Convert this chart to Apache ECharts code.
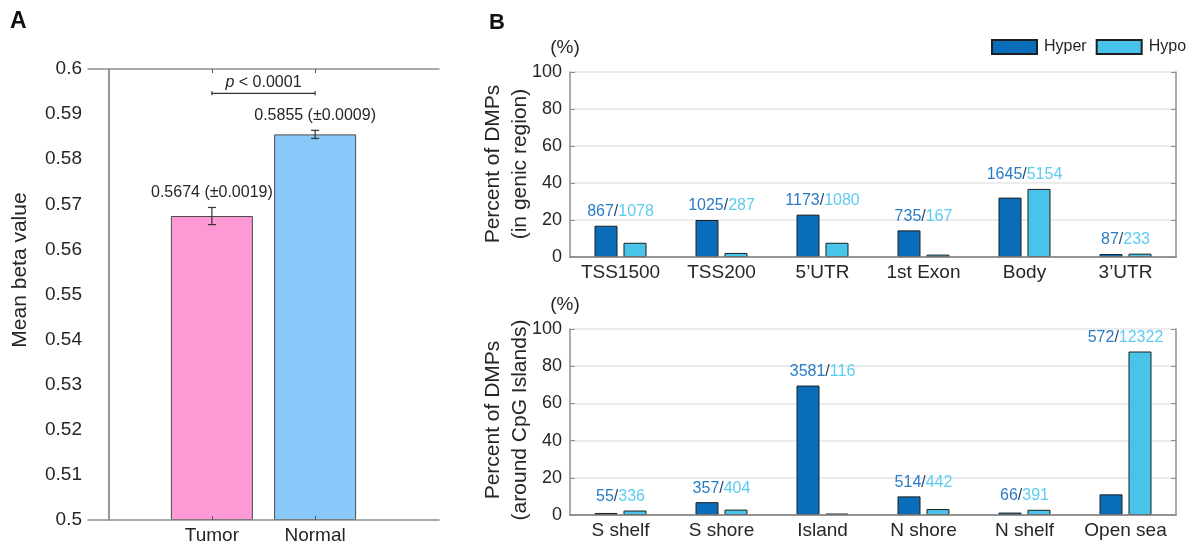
<!DOCTYPE html>
<html>
<head>
<meta charset="utf-8">
<script src="https://cdn.jsdelivr.net/npm/echarts@6/dist/echarts.min.js"></script>
<style>
  html, body { margin: 0; padding: 0; background: #fff; }
  #chart { width: 1188px; height: 547px; }
</style>
</head>
<body>
<div id="chart"></div>
<script>
// ---- 数据 ----
var groupNames = ['Tumor', 'Normal'];
var betaMean = [0.5674, 0.5855];
var betaErr = [0.0019, 0.0009];
var groupColors = ['#fd9ad5', '#88c9fa'];
var pText = 'p < 0.0001';

var genicCats = ['TSS1500', 'TSS200', '5\u2019UTR', '1st Exon', 'Body', '3\u2019UTR'];
var genicHyperPct = [16.9, 20.0, 22.9, 14.4, 32.1, 1.6];
var genicHypoPct = [7.7, 2.2, 7.7, 1.3, 36.8, 1.8];
var genicHyperN = [867, 1025, 1173, 735, 1645, 87];
var genicHypoN = [1078, 287, 1080, 167, 5154, 233];

var cpgCats = ['S shelf', 'S shore', 'Island', 'N shore', 'N shelf', 'Open sea'];
var cpgHyperPct = [1.1, 6.9, 69.6, 10.0, 1.3, 11.1];
var cpgHypoPct = [2.4, 2.9, 0.8, 3.2, 2.8, 87.9];
var cpgHyperN = [55, 357, 3581, 514, 66, 572];
var cpgHypoN = [336, 404, 116, 442, 391, 12322];

var HYPER = '#0a6dba', HYPO = '#48c4ea';
var HYPER_TXT = '#2a7bc6', HYPO_TXT = '#5ccbf0';
var FONT = '"Liberation Sans", Arial, Helvetica, sans-serif';
var AX = '#8f8f8f', TXT = '#262626';

var chart = echarts.init(document.getElementById('chart'));

// 计数标签:画在两根柱子中较高者上方
function countLabel(nHyper, nHypo) {
  return function (params, api) {
    var i = api.value(0);
    var p = api.coord([i, api.value(1)]);
    return {
      type: 'text', x: p[0], y: p[1] - 6,
      style: {
        text: '{a|' + nHyper[i] + '}{s|/}{b|' + nHypo[i] + '}',
        align: 'center', verticalAlign: 'bottom', fontFamily: FONT, fontSize: 16,
        rich: {
          a: { fill: HYPER_TXT, fontSize: 16, fontFamily: FONT },
          s: { fill: '#24496e', fontSize: 16, fontFamily: FONT },
          b: { fill: HYPO_TXT, fontSize: 16, fontFamily: FONT }
        }
      }
    };
  };
}
function maxPairs(a, b) {
  return a.map(function (v, i) { return [i, Math.max(v, b[i])]; });
}

function catAxes(cats, gi) {
  return [
    { type: 'category', gridIndex: gi, data: cats, position: 'bottom', z: 5,
      axisLine: { lineStyle: { color: AX, width: 1.5 } },
      axisTick: { inside: true, alignWithLabel: true, length: 5, lineStyle: { color: AX } },
      axisLabel: { interval: 0, color: TXT, fontSize: 19, fontFamily: FONT, margin: 6 } },
    { type: 'category', gridIndex: gi, data: cats, position: 'top',
      axisLine: { lineStyle: { color: AX, width: 1.5 } },
      axisTick: { inside: true, alignWithLabel: true, interval: 0, length: 5, lineStyle: { color: AX } },
      axisLabel: { show: false } }
  ];
}
function pctAxes(gi) {
  return [
    { type: 'value', gridIndex: gi, min: 0, max: 100, interval: 20, position: 'left',
      axisLine: { show: true, lineStyle: { color: AX, width: 1.5 } },
      axisTick: { show: true, inside: true, length: 5, lineStyle: { color: AX } },
      axisLabel: { color: TXT, fontSize: 18, fontFamily: FONT, margin: 8 },
      splitLine: { lineStyle: { color: '#e6e6e6', width: 1.5 } } },
    { type: 'value', gridIndex: gi, min: 0, max: 100, interval: 20, position: 'right',
      axisLine: { show: true, lineStyle: { color: AX, width: 1.5 } },
      axisTick: { show: true, inside: true, length: 5, lineStyle: { color: AX } },
      axisLabel: { show: false }, splitLine: { show: false } }
  ];
}

var xAxes = [
  { type: 'value', gridIndex: 0, min: -0.2, max: 3.2, position: 'bottom', z: 5,
    axisLine: { lineStyle: { color: AX, width: 1.5 } },
    axisTick: { inside: true, length: 4, customValues: [1, 2], lineStyle: { color: '#555' } },
    axisLabel: { customValues: [1, 2], color: TXT, fontSize: 19, fontFamily: FONT, margin: 6,
                 formatter: function (v) { return groupNames[Math.round(v) - 1] || ''; } },
    splitLine: { show: false } },
  { type: 'value', gridIndex: 0, min: -0.2, max: 3.2, position: 'top',
    axisLine: { lineStyle: { color: AX, width: 1.5 } },
    axisTick: { inside: true, length: 4, customValues: [1, 2], lineStyle: { color: '#555' } },
    axisLabel: { show: false }, splitLine: { show: false } }
].concat(catAxes(genicCats, 1), catAxes(cpgCats, 2));

var yAxes = [
  { type: 'value', gridIndex: 0, min: 0.5, max: 0.6, interval: 0.01, startValue: 0.5, position: 'left',
    axisLine: { show: true, lineStyle: { color: AX, width: 1.5 } },
    axisTick: { show: false },
    axisLabel: { color: TXT, fontSize: 19, fontFamily: FONT, margin: 6 },
    splitLine: { show: false } },
  { type: 'value', gridIndex: 0, min: 0.5, max: 0.6, position: 'right',
    axisLine: { show: true, lineStyle: { color: AX, width: 1.5 } },
    axisTick: { show: false }, axisLabel: { show: false }, splitLine: { show: false } }
].concat(pctAxes(1), pctAxes(2));

var barBorder = { borderColor: '#1e1e1e', borderWidth: 1 };

var option = {
  animation: false,
  textStyle: { fontFamily: FONT },
  grid: [
    { left: 88, top: 69, width: 351, height: 451 },
    { left: 570, top: 72, width: 606, height: 185 },
    { left: 570, top: 329, width: 606, height: 186 }
  ],
  xAxis: xAxes,
  yAxis: yAxes,
  legend: {
    data: ['Hyper', 'Hypo'], orient: 'horizontal', left: 991, top: 39, padding: 0,
    itemWidth: 45, itemHeight: 14, itemGap: 9,
    icon: 'rect', textStyle: { fontSize: 16, color: TXT, fontFamily: FONT, padding: [0, 0, 0, 2] }
  },
  graphic: [
    { type: 'text', left: 10, top: 10, style: { text: 'A', fontSize: 23, fontWeight: 'bold', fill: '#111', fontFamily: FONT } },
    { type: 'text', left: 489, top: 12, style: { text: 'B', fontSize: 22, fontWeight: 'bold', fill: '#111', fontFamily: FONT } },
    { type: 'text', x: 20, y: 270, rotation: Math.PI / 2,
      style: { text: 'Mean beta value', fontSize: 21, fill: TXT, fontFamily: FONT, align: 'center', verticalAlign: 'middle' } },
    { type: 'text', x: 507, y: 164, rotation: Math.PI / 2,
      style: { text: 'Percent of DMPs\n(in genic region)', fontSize: 21, lineHeight: 27, fill: TXT, fontFamily: FONT, align: 'center', verticalAlign: 'middle' } },
    { type: 'text', x: 507, y: 420, rotation: Math.PI / 2,
      style: { text: 'Percent of DMPs\n(around CpG Islands)', fontSize: 21, lineHeight: 27, fill: TXT, fontFamily: FONT, align: 'center', verticalAlign: 'middle' } },
    { type: 'text', x: 565, y: 48, style: { text: '(%)', fontSize: 19, fill: TXT, fontFamily: FONT, align: 'center', verticalAlign: 'middle' } },
    { type: 'text', x: 565, y: 305, style: { text: '(%)', fontSize: 19, fill: TXT, fontFamily: FONT, align: 'center', verticalAlign: 'middle' } }
  ],
  series: [
    // ---- A ----
    { type: 'bar', xAxisIndex: 0, yAxisIndex: 0, barWidth: 82, clip: true,
      data: betaMean.map(function (v, i) {
        return { value: [i + 1, v], itemStyle: { color: groupColors[i], borderColor: '#4a4a4a', borderWidth: 1 } };
      }) },
    { type: 'custom', xAxisIndex: 0, yAxisIndex: 0, z: 4,
      data: betaMean.map(function (v, i) { return [i + 1, v, betaErr[i]]; }),
      renderItem: function (params, api) {
        var x = api.value(0), m = api.value(1), e = api.value(2);
        var hi = api.coord([x, m + e]), lo = api.coord([x, m - e]);
        var st = { stroke: '#333', lineWidth: 1.2 };
        return { type: 'group', children: [
          { type: 'line', shape: { x1: hi[0], y1: hi[1], x2: lo[0], y2: lo[1] }, style: st },
          { type: 'line', shape: { x1: hi[0] - 4, y1: hi[1], x2: hi[0] + 4, y2: hi[1] }, style: st },
          { type: 'line', shape: { x1: lo[0] - 4, y1: lo[1], x2: lo[0] + 4, y2: lo[1] }, style: st },
          { type: 'text', x: hi[0], y: hi[1] - 7, style: {
              text: m.toFixed(4) + ' (\u00b1' + e.toFixed(4) + ')', fontSize: 16, fontFamily: FONT,
              fill: TXT, align: 'center', verticalAlign: 'bottom' } }
        ] };
      } },
    { type: 'custom', xAxisIndex: 0, yAxisIndex: 0, z: 4,
      data: [[1, 2, 0.5946]],
      renderItem: function (params, api) {
        var a = api.coord([api.value(0), api.value(2)]), b = api.coord([api.value(1), api.value(2)]);
        var st = { stroke: '#333', lineWidth: 1.2 };
        return { type: 'group', children: [
          { type: 'line', shape: { x1: a[0], y1: a[1], x2: b[0], y2: b[1] }, style: st },
          { type: 'line', shape: { x1: a[0], y1: a[1] - 2, x2: a[0], y2: a[1] + 2 }, style: st },
          { type: 'line', shape: { x1: b[0], y1: b[1] - 2, x2: b[0], y2: b[1] + 2 }, style: st },
          { type: 'text', x: (a[0] + b[0]) / 2, y: a[1] - 11, style: {
              text: '{i|p}{n| < 0.0001}', align: 'center', verticalAlign: 'middle',
              rich: { i: { fontStyle: 'italic', fontSize: 16, fontFamily: FONT, fill: TXT },
                      n: { fontSize: 16, fontFamily: FONT, fill: TXT } } } }
        ] };
      } },
    // ---- B 上 ----
    { name: 'Hyper', type: 'bar', xAxisIndex: 2, yAxisIndex: 2, barWidth: 23, barGap: '26%',
      itemStyle: Object.assign({ color: HYPER }, barBorder), data: genicHyperPct },
    { name: 'Hypo', type: 'bar', xAxisIndex: 2, yAxisIndex: 2, barWidth: 23, barGap: '26%',
      itemStyle: Object.assign({ color: HYPO }, barBorder), data: genicHypoPct },
    { type: 'custom', xAxisIndex: 2, yAxisIndex: 2, z: 4,
      data: maxPairs(genicHyperPct, genicHypoPct), renderItem: countLabel(genicHyperN, genicHypoN) },
    // ---- B 下 ----
    { name: 'Hyper', type: 'bar', xAxisIndex: 4, yAxisIndex: 4, barWidth: 23, barGap: '26%',
      itemStyle: Object.assign({ color: HYPER }, barBorder), data: cpgHyperPct },
    { name: 'Hypo', type: 'bar', xAxisIndex: 4, yAxisIndex: 4, barWidth: 23, barGap: '26%',
      itemStyle: Object.assign({ color: HYPO }, barBorder), data: cpgHypoPct },
    { type: 'custom', xAxisIndex: 4, yAxisIndex: 4, z: 4,
      data: maxPairs(cpgHyperPct, cpgHypoPct), renderItem: countLabel(cpgHyperN, cpgHypoN) }
  ]
};
chart.setOption(option);
</script>
</body>
</html>
